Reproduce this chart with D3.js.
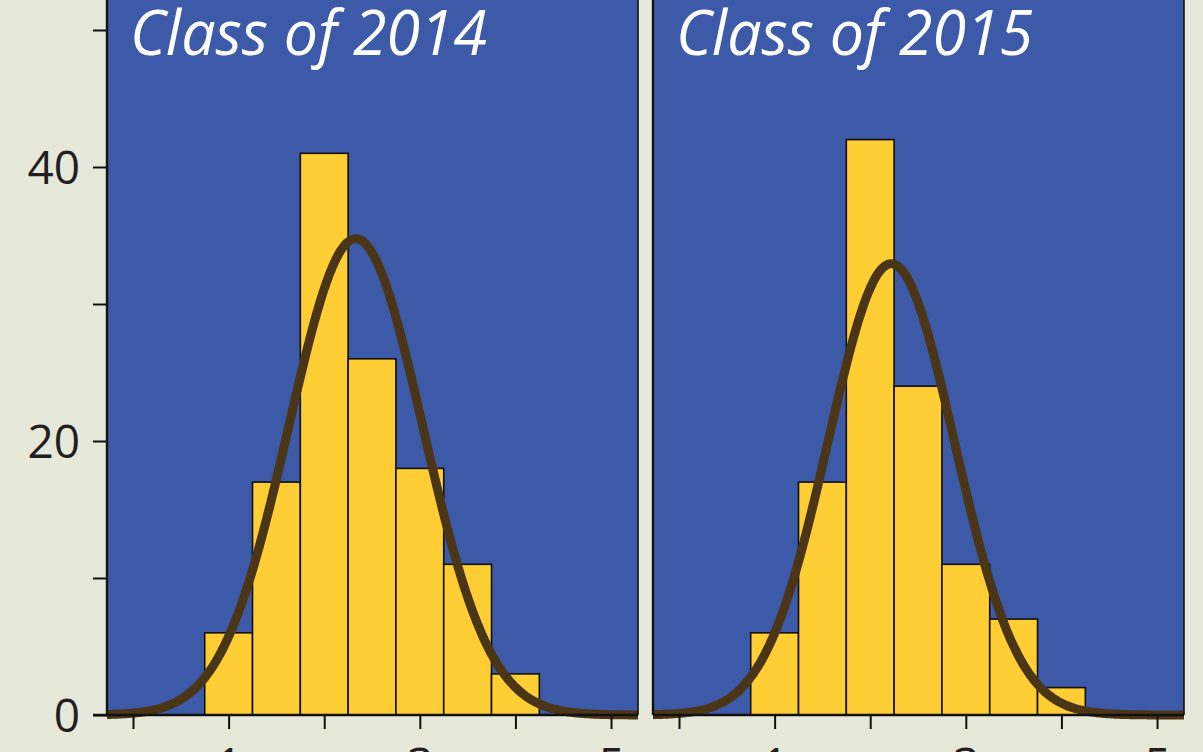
<!DOCTYPE html>
<html>
<head>
<meta charset="utf-8">
<script src="https://cdn.jsdelivr.net/npm/d3@7"></script>
<style>
  html, body { margin: 0; padding: 0; background: #e6e9d9; overflow: hidden; }
  svg { display: block; }
</style>
</head>
<body>
<div class="chart"></div>
<script>
// data

var classNames = ["Class of 2014", "Class of 2015"];
var binStarts = [0.75, 1.25, 1.75, 2.25, 2.75, 3.25, 3.75];
var binWidth = 0.5;
var counts2014 = [6, 17, 41, 26, 18, 11, 3];
var counts2015 = [6, 17, 42, 24, 11, 7, 2];
var fitMeans = [2.33, 2.22];
var fitSds = [0.70, 0.66];
var yTicks = [0, 10, 20, 30, 40, 50];
var yLabels = [0, 20, 40];
var xTicks = [0, 1, 2, 3, 4, 5];
var xLabels = [1, 3, 5];

var allCounts = [counts2014, counts2015];

// setup SVG

var w = 1203
var h = 752

var svg = d3.select(".chart")
    .append("svg")
    .attr("width", w)
    .attr("height", h)

svg.append("rect")
    .attr("width", w)
    .attr("height", h)
    .attr("fill", "#e6e9d9")

var panelLeft = 107
var panelW = 531
var panelGap = 15
var base = 715
var panelTop = -20

var y = d3.scaleLinear()
    .domain([0, 40])
    .range([base, 167])

var fontFam = "'Open Sans', 'Noto Sans', sans-serif"

// y axis on the left panel

var yAxis = d3.axisLeft(y)
    .tickValues(yTicks)
    .tickSize(14)
    .tickFormat(function(d) { return yLabels.indexOf(d) >= 0 ? d : ""; })

var yg = svg.append("g")
    .attr("transform", "translate(" + panelLeft + ",0)")
    .call(yAxis)

yg.select(".domain").remove()
yg.selectAll(".tick line").attr("stroke", "#111").attr("stroke-width", 2)
yg.selectAll(".tick text")
    .attr("x", -27)
    .attr("dy", "0.36em")
    .attr("fill", "#231f20")
    .style("font-family", fontFam)
    .style("font-size", "46px")

// panels

classNames.forEach(function(name, i) {
    var x0 = panelLeft + i * (panelW + panelGap)
    var counts = allCounts[i]
    var n = d3.sum(counts)

    var x = d3.scaleLinear()
        .domain([-0.272, 5.282])
        .range([x0, x0 + panelW])

    var g = svg.append("g")

    g.append("clipPath")
        .attr("id", "clip" + i)
        .append("rect")
        .attr("x", x0)
        .attr("y", panelTop)
        .attr("width", panelW)
        .attr("height", base - panelTop + 10)

    g.append("rect")
        .attr("x", x0)
        .attr("y", panelTop)
        .attr("width", panelW)
        .attr("height", base - panelTop)
        .attr("fill", "#3d5aa8")

    g.selectAll(".bar")
        .data(binStarts)
        .enter()
        .append("rect")
        .attr("class", "bar")
        .attr("x", function(d) { return x(d); })
        .attr("width", function(d) { return x(d + binWidth) - x(d); })
        .attr("y", function(d, j) { return y(counts[j]); })
        .attr("height", function(d, j) { return y(0) - y(counts[j]); })
        .attr("fill", "#ffcd34")
        .attr("stroke", "#111")
        .attr("stroke-width", 1.6)

    // fitted normal curve scaled to counts
    var mu = fitMeans[i], sd = fitSds[i]
    var pts = d3.range(-0.3, 5.32, 0.02).map(function(v) {
        var z = (v - mu) / sd
        return [v, n * binWidth * Math.exp(-0.5 * z * z) / (sd * Math.sqrt(2 * Math.PI))]
    })

    var line = d3.line()
        .x(function(d) { return x(d[0]); })
        .y(function(d) { return y(d[1]); })
        .curve(d3.curveBasis)

    g.append("path")
        .attr("d", line(pts))
        .attr("clip-path", "url(#clip" + i + ")")
        .attr("fill", "none")
        .attr("stroke", "#4b3517")
        .attr("stroke-width", 9)

    // panel borders
    g.append("line")
        .attr("x1", x0).attr("x2", x0)
        .attr("y1", panelTop).attr("y2", base)
        .attr("stroke", "#111").attr("stroke-width", 2.4)
    g.append("line")
        .attr("x1", x0 + panelW).attr("x2", x0 + panelW)
        .attr("y1", panelTop).attr("y2", base)
        .attr("stroke", "#111").attr("stroke-width", 1.6)

    // x axis
    var xAxis = d3.axisBottom(x)
        .tickValues(xTicks)
        .tickSize(14)
        .tickFormat(function(d) { return xLabels.indexOf(d) >= 0 ? d : ""; })

    var xg = g.append("g")
        .attr("transform", "translate(0," + base + ")")
        .call(xAxis)

    xg.select(".domain").remove()
    xg.selectAll(".tick line").attr("stroke", "#111").attr("stroke-width", 2)
    xg.selectAll(".tick text")
        .attr("y", 66)
        .attr("dy", 0)
        .attr("fill", "#231f20")
        .style("font-family", fontFam)
        .style("font-size", "46px")

    g.append("line")
        .attr("x1", i == 0 ? x0 - 14 : x0).attr("x2", x0 + panelW)
        .attr("y1", base).attr("y2", base)
        .attr("stroke", "#111").attr("stroke-width", 2.4)

    // title
    g.append("text")
        .attr("x", x0 + 23)
        .attr("y", 55)
        .attr("fill", "#fff")
        .attr("textLength", 357)
        .attr("lengthAdjust", "spacingAndGlyphs")
        .style("font-family", fontFam)
        .style("font-style", "italic")
        .style("font-size", "63px")
        .text(name)
})
</script>
</body>
</html>
